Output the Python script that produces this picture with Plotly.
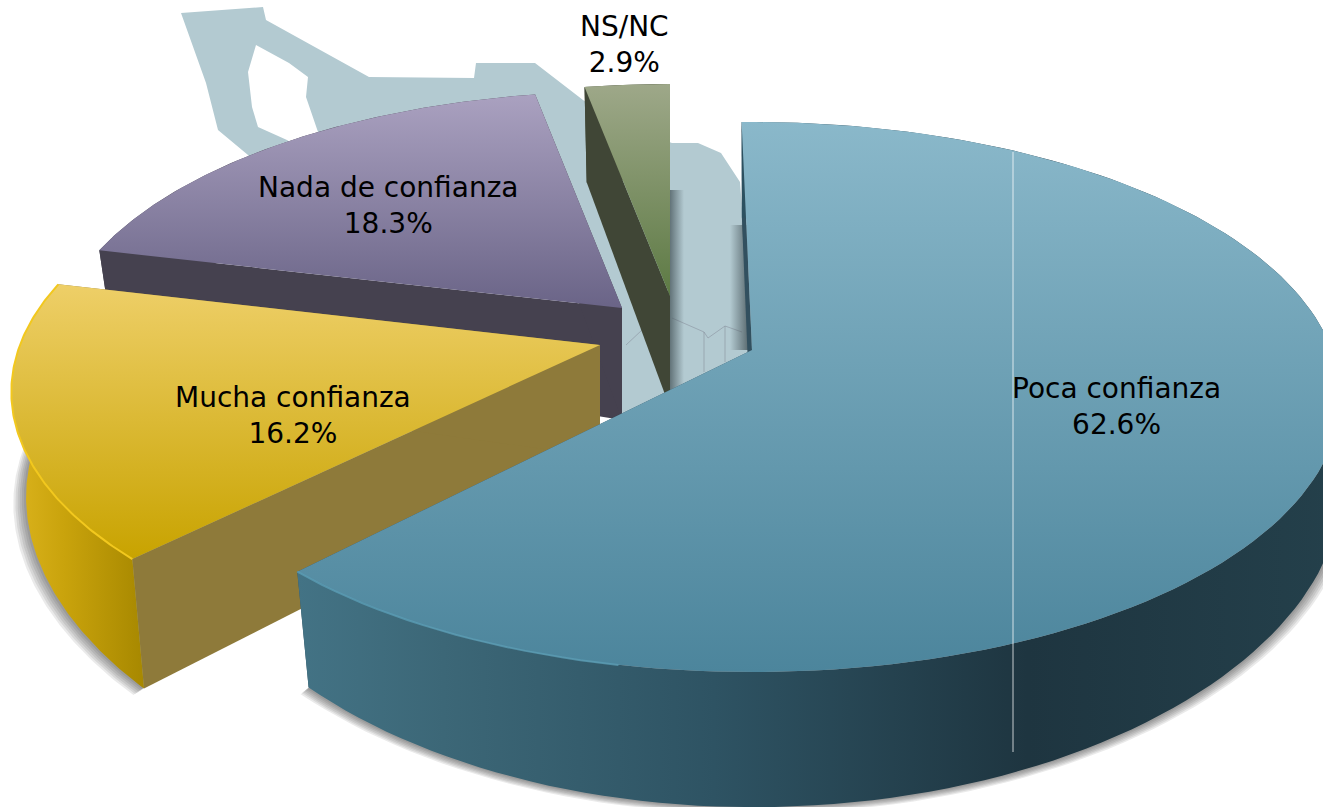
import numpy as np
import plotly.graph_objects as go

# ---- data ----
categories = ["Poca confianza", "Mucha confianza", "Nada de confianza", "NS/NC"]
values = [62.6, 16.2, 18.3, 2.9]

# ---- exploded 3D pie projection settings (one entry per slice) ----
W, H = 1323, 807
RX, RY, PERSP, DEPTH = 580.0, 267.0, 0.171, 112.0
apex_x = [752, 600, 622, 670]
apex_y = [350, 345, 308, 296]
scale_x = [1.0, 1.0, 0.965, 0.95]
scale_y = [1.0, 1.0, 0.95, 0.93]
depth_scale = [1.0, 1.13, 1.0, 1.0]
tilt_start = [-1.2, -0.2, 0.0, 0.0]
tilt_end = [-2.0, 0.0, 0.0, 0.0]
top_colors = [("#8ab8ca", "#4c859c"), ("#eecf68", "#c8a300"), ("#aaa1c0", "#6a6487"), ("#9ea889", "#5d7a44")]
edge_colors = ["rgba(90,156,180,0.8)", "#f2c81e", "#aaa1c0", "#9ea889"]
radial_colors = ["#32505f", "#8e7a3a", "#45414f", "#404636"]
outer_colors = [
    [[0, "#437385"], [0.14, "#3c6777"], [0.4, "#2e5363"], [0.7, "#1e3540"], [1, "#24404b"]],
    [[0, "#dcb41e"], [0.4, "#c9a30c"], [1, "#a78800"]],
    [[0, "#45414f"], [1, "#45414f"]],
    [[0, "#404636"], [1, "#404636"]],
]
label_x = [1116, 293, 388, 624]
label_y = [406, 415, 205, 44]


def project(i, deg):
    t = np.radians(deg)
    X, Y = np.sin(t), np.cos(t)
    denom = 1 + PERSP * Y
    dx = RX * scale_x[i] * X / denom
    dy = -RY * scale_y[i] * Y / denom
    depth = DEPTH * depth_scale[i] * (1 - 0.2 * X ** 2) / denom
    bx = dx - 0.025 * np.minimum(dx, 0)
    return apex_x[i] + dx, apex_y[i] + dy, apex_x[i] + bx, apex_y[i] + dy + depth


def poly(xs, ys, color=None, scale=None, orient="vertical", name=""):
    xs, ys = list(xs), list(ys)
    kw = dict(x=xs + xs[:1], y=ys + ys[:1], mode="lines", line=dict(width=0), fill="toself",
              hoverinfo="skip", showlegend=False, name=name)
    if scale is not None:
        rng = (min(ys), max(ys)) if orient == "vertical" else (min(xs), max(xs))
        kw["fillgradient"] = dict(type=orient, colorscale=scale, start=rng[0], stop=rng[1])
    else:
        kw["fillcolor"] = color
    return go.Scatter(**kw)


fig = go.Figure()

# soft contact shadow of the pie on the page
cum = np.cumsum([0] + values) / sum(values) * 360
arcs = []
for i in range(len(values)):
    th = np.linspace(cum[i] + tilt_start[i], cum[i + 1] + tilt_end[i], 140)
    arcs.append((th, project(i, th)))

for i in (1, 0):
    th, (tx, ty, bx, by) = arcs[i]
    for n in range(1, 7):
        f = 1 + n * 0.003
        sx = apex_x[i] + (bx - apex_x[i]) * f - (n * 0.4 if i == 1 else 0)
        fig.add_trace(poly(list(sx) + [apex_x[i]], list(by + n * 1.1) + [apex_y[i]], "rgba(50,50,50,0.10)"))

# shadows thrown on the map in the gap between slices
fig.add_trace(poly([668, 684, 684, 668], [190, 190, 395, 395],
                   scale=[[0, "rgba(70,85,90,0.85)"], [1, "rgba(70,85,90,0)"]], orient="horizontal"))
fig.add_trace(poly([730, 748, 748, 730], [225, 225, 350, 350],
                   scale=[[0, "rgba(70,85,90,0)"], [1, "rgba(70,85,90,0.8)"]], orient="horizontal"))

# painter's order: far slices first
for i in (3, 2, 1, 0):
    th, (tx, ty, bx, by) = arcs[i]
    ax, ay = apex_x[i], apex_y[i]
    a_b = ay + DEPTH
    # radial walls
    fig.add_trace(poly([tx[0], bx[0], ax, ax], [ty[0], by[0], a_b, ay], radial_colors[i], name=categories[i]))
    fig.add_trace(poly([tx[-1], bx[-1], ax, ax], [ty[-1], by[-1], a_b, ay], radial_colors[i], name=categories[i]))
    # outer rim
    fig.add_trace(poly(list(tx) + list(bx[::-1]), list(ty) + list(by[::-1]),
                       scale=outer_colors[i], orient="horizontal", name=categories[i]))
    # top face
    fig.add_trace(poly([ax] + list(tx), [ay] + list(ty),
                       scale=[[0, top_colors[i][0]], [1, top_colors[i][1]]], name=categories[i]))
    # bright rim highlight on the front arcs
    if i == 1:
        fig.add_trace(go.Scatter(x=tx, y=ty, mode="lines", line=dict(color=edge_colors[i], width=2),
                                 hoverinfo="skip", showlegend=False))
    if i == 0:
        m = th > 190
        fig.add_trace(go.Scatter(x=tx[m], y=ty[m], mode="lines", line=dict(color=edge_colors[i], width=2),
                                 hoverinfo="skip", showlegend=False))

# background map silhouette (decoration, under everything)
map_path = ("M181,13 L263,7 L266,20 L369,77 L474,78 L476,63 L535,63 L583,100 L620,125 L672,143 L698,143 "
            "L721,153 L740,182 L752,340 L752,400 L620,420 L620,310 L300,250 L248,155 L218,130 L206,83 Z "
            "M256,45 L289,63 L308,77 L306,97 L318,132 L330,170 L287,140 L258,127 L252,107 L248,72 Z")
shapes = [
    dict(type="path", path=map_path, layer="below", xref="x", yref="y",
         fillcolor="#b3cad1", line=dict(width=0)),
    dict(type="line", x0=1013, x1=1013, y0=152, y1=752, xref="x", yref="y", layer="above",
         line=dict(color="rgba(255,255,255,0.75)", width=1)),
    dict(type="path", path="M626,345 L642,330 M672,318 L704,332 L708,338 L725,326 L742,332 M704,332 L704,372 M725,326 L725,362",
         layer="below", xref="x", yref="y", line=dict(color="rgba(130,135,150,0.5)", width=1)),
]

annotations = [
    dict(x=label_x[i], y=label_y[i], xref="x", yref="y", showarrow=False, align="center",
         text=f"{categories[i]}<br>{values[i]}%",
         font=dict(family="DejaVu Sans", size=28, color="#000000"))
    for i in range(len(values))
]

fig.update_layout(
    width=W, height=H, autosize=False,
    margin=dict(l=0, r=0, t=0, b=0),
    paper_bgcolor="white", plot_bgcolor="rgba(0,0,0,0)",
    showlegend=False, shapes=shapes, annotations=annotations,
    xaxis=dict(range=[0, W], visible=False, fixedrange=True),
    yaxis=dict(range=[H, 0], visible=False, fixedrange=True),
)
fig.write_html("out.html", config={"displayModeBar": False},
               post_script="document.body.style.margin='0';document.body.style.overflow='hidden';")
